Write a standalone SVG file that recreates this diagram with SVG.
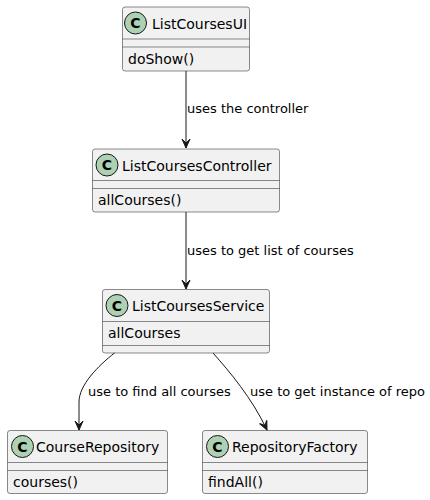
<svg xmlns="http://www.w3.org/2000/svg" width="430" height="500" viewBox="0 0 430 500">
<style>
.box{fill:#F1F1F1;stroke:#181818;stroke-width:0.5}
.sep{stroke:#181818;stroke-width:0.5}
.circ{fill:#ADD1B2;stroke:#181818;stroke-width:1}
.cl{font-family:"DejaVu Sans",sans-serif;font-size:14px;fill:#000}
.mem{font-family:"DejaVu Sans",sans-serif;font-size:14px;fill:#000}
.ci{font-family:"DejaVu Sans",sans-serif;font-size:14px;font-weight:bold;fill:#000;text-anchor:middle}
.lbl{font-family:"DejaVu Sans",sans-serif;font-size:13px;fill:#000}
.edge{fill:none;stroke:#181818;stroke-width:1}
</style>
<defs>
<marker id="ah" markerUnits="userSpaceOnUse" markerWidth="12" markerHeight="12" viewBox="-10 -6 12 12" refX="0" refY="0" orient="auto">
<path d="M0,0 L-9,-4 L-5,0 L-9,4 Z" fill="#181818" stroke="#181818" stroke-width="1"/>
</marker>
</defs>
<g id="ListCoursesUI">
<rect class="box" x="122.5" y="7" width="127" height="64" rx="2.5"/>
<ellipse class="circ" cx="135.5" cy="23" rx="11" ry="11"/>
<text class="ci" x="135.5" y="28">C</text>
<text class="cl" x="152" y="29">ListCoursesUI</text>
<line class="sep" x1="122.5" y1="39" x2="249.5" y2="39"/>
<line class="sep" x1="122.5" y1="47" x2="249.5" y2="47"/>
<text class="mem" x="128" y="64">doShow()</text>
</g>
<g id="ListCoursesController">
<rect class="box" x="92.5" y="149" width="187" height="63" rx="2.5"/>
<ellipse class="circ" cx="107" cy="165" rx="11" ry="11"/>
<text class="ci" x="107" y="170">C</text>
<text class="cl" x="122" y="171">ListCoursesController</text>
<line class="sep" x1="92.5" y1="180.5" x2="279.5" y2="180.5"/>
<line class="sep" x1="92.5" y1="188.5" x2="279.5" y2="188.5"/>
<text class="mem" x="98" y="205">allCourses()</text>
</g>
<g id="ListCoursesService">
<rect class="box" x="102.5" y="289.5" width="167" height="63.5" rx="2.5"/>
<ellipse class="circ" cx="117" cy="305.5" rx="11" ry="11"/>
<text class="ci" x="117" y="310.5">C</text>
<text class="cl" x="132" y="311">ListCoursesService</text>
<line class="sep" x1="102.5" y1="321.5" x2="269.5" y2="321.5"/>
<line class="sep" x1="102.5" y1="345.5" x2="269.5" y2="345.5"/>
<text class="mem" x="108" y="338">allCourses</text>
</g>
<g id="CourseRepository">
<rect class="box" x="7.5" y="430.5" width="160" height="63" rx="2.5"/>
<ellipse class="circ" cx="22.5" cy="446.5" rx="11" ry="11"/>
<text class="ci" x="22.5" y="451.5">C</text>
<text class="cl" x="36" y="452">CourseRepository</text>
<line class="sep" x1="7.5" y1="462.5" x2="167.5" y2="462.5"/>
<line class="sep" x1="7.5" y1="470.5" x2="167.5" y2="470.5"/>
<text class="mem" x="13" y="487">courses()</text>
</g>
<g id="RepositoryFactory">
<rect class="box" x="202.5" y="430.5" width="165" height="63" rx="2.5"/>
<ellipse class="circ" cx="217.5" cy="446.5" rx="11" ry="11"/>
<text class="ci" x="217.5" y="451.5">C</text>
<text class="cl" x="232" y="452">RepositoryFactory</text>
<line class="sep" x1="202.5" y1="462.5" x2="367.5" y2="462.5"/>
<line class="sep" x1="202.5" y1="470.5" x2="367.5" y2="470.5"/>
<text class="mem" x="208" y="487">findAll()</text>
</g>
<g id="connectors">
<path class="edge" d="M186,71 L186,148" marker-end="url(#ah)"/>
<text class="lbl" x="187" y="113">uses the controller</text>
<path class="edge" d="M186,212 L186,289" marker-end="url(#ah)"/>
<text class="lbl" x="187" y="255">uses to get list of courses</text>
<path class="edge" d="M114.5,353 C98,366 79,385 79,402 L79,430" marker-end="url(#ah)"/>
<text class="lbl" x="88" y="396">use to find all courses</text>
<path class="edge" d="M213,353 C229,371 252,398 267,430" marker-end="url(#ah)"/>
<text class="lbl" x="250" y="396">use to get instance of repo</text>
</g>
</svg>
